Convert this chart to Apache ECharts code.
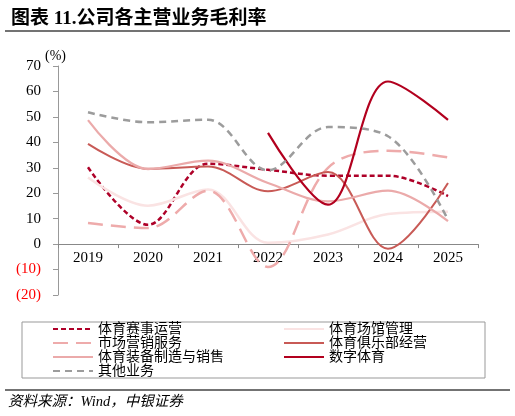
<!DOCTYPE html>
<html>
<head>
<meta charset="utf-8">
<script src="https://cdn.jsdelivr.net/npm/echarts@6/dist/echarts.min.js"></script>
<style>
  html, body { margin: 0; padding: 0; background: #fff; }
  #main { width: 515px; height: 416px; }
</style>
</head>
<body>
<div id="main"></div>
<script>
// 年份
var years = ['2019', '2020', '2021', '2022', '2023', '2024', '2025'];
// 各业务毛利率 (%)
var eventOps = [30.2, 7.6, 31.6, 29.2, 26.9, 26.9, 18.9];      // 体育赛事运营
var venueMgmt = [26.2, 15.1, 21.5, 0.5, 3.8, 11.8, 12.7];      // 体育场馆管理
var marketing = [8.3, 6.3, 21.0, -9.0, 30.0, 36.7, 34.1];      // 市场营销服务
var clubOps = [39.4, 29.6, 30.5, 20.8, 28.3, -1.8, 24.0];      // 体育俱乐部经营
var equipment = [48.7, 29.5, 32.8, 24.0, 16.8, 21.0, 9.0];     // 体育装备制造与销售
var digital = [null, null, null, 43.7, 15.5, 63.9, 48.8];      // 数字体育
var others = [51.8, 47.9, 48.9, 29.0, 46.0, 42.4, 9.5];        // 其他业务

var yTicks = { min: -20, max: 70, step: 10 };

var serif = 'Liberation Serif, "Noto Sans CJK SC", serif';
var myChart = echarts.init(document.getElementById('main'));

// 网格
var gridTop = 66, gridBottom = 121, chartH = 416;
var plotH = chartH - gridTop - gridBottom;
// x轴放在0刻度处
var zeroOffset = -plotH * (0 - yTicks.min) / (yTicks.max - yTicks.min);

function line(name, data, color, width, dash) {
    return {
        name: name,
        type: 'line',
        data: data,
        smooth: 0.35,
        symbol: 'none',
        lineStyle: { color: color, width: width, type: dash || 'solid' },
        itemStyle: { color: color }
    };
}

var legendText = { fontSize: 14, lineHeight: 14, color: '#000', fontFamily: serif };

var option = {
    animation: false,
    backgroundColor: '#fff',
    title: {
        text: '图表 11.公司各主营业务毛利率',
        left: 6,
        top: 5,
        textStyle: { fontSize: 19, fontWeight: 'bold', color: '#000', fontFamily: serif }
    },
    grid: { left: 58, right: 37, top: gridTop, bottom: gridBottom, outerBoundsMode: 'none' },
    xAxis: {
        type: 'category',
        data: years,
        boundaryGap: true,
        offset: zeroOffset,
        axisLine: { onZero: false, lineStyle: { color: '#888', width: 1 } },
        axisTick: { show: true, length: 4, lineStyle: { color: '#888' } },
        axisLabel: { color: '#000', fontSize: 15, fontFamily: serif, margin: 6 }
    },
    yAxis: {
        type: 'value',
        min: yTicks.min,
        max: yTicks.max,
        interval: yTicks.step,
        axisLine: { show: true, lineStyle: { color: '#999', width: 1 } },
        axisTick: { show: true, length: 5, lineStyle: { color: '#999' } },
        splitLine: { show: false },
        axisLabel: {
            fontSize: 15,
            fontFamily: serif,
            margin: 17,
            color: function (v) { return v < 0 ? '#ff0000' : '#000'; },
            formatter: function (v) { return v < 0 ? '(' + (-v) + ')' : v; }
        }
    },
    legend: [{
        data: ['体育赛事运营', '市场营销服务', '体育装备制造与销售', '其他业务'],
        orient: 'vertical',
        left: 52,
        top: 322,
        padding: 0,
        itemWidth: 40,
        itemHeight: 10,
        itemGap: 0,
        itemStyle: { opacity: 0 },
        textStyle: legendText
    }, {
        data: ['体育场馆管理', '体育俱乐部经营', '数字体育'],
        orient: 'vertical',
        left: 283,
        top: 322,
        padding: 0,
        itemWidth: 40,
        itemHeight: 10,
        itemGap: 0,
        itemStyle: { opacity: 0 },
        textStyle: legendText
    }],
    graphic: [
        { type: 'line', shape: { x1: 5, y1: 31, x2: 510, y2: 31 }, style: { stroke: '#444', lineWidth: 1.3 } },
        // 单位
        { type: 'text', left: 45, top: 49, style: { text: '(%)', fill: '#000', font: '14px ' + serif } },
        { type: 'rect', shape: { x: 22, y: 322, width: 463, height: 56 }, style: { fill: 'none', stroke: '#999', lineWidth: 1 } },
        { type: 'line', shape: { x1: 5, y1: 390, x2: 510, y2: 390 }, style: { stroke: '#444', lineWidth: 1.3 } },
        {
            type: 'text', left: 8, top: 395,
            style: { text: '资料来源：Wind，中银证券', fill: '#000', font: 'italic 14.5px ' + serif }
        }
    ],
    series: [
        line('体育赛事运营', eventOps, '#AE0028', 2.5, [5, 3]),
        line('体育场馆管理', venueMgmt, '#FAE3E3', 2.5),
        line('市场营销服务', marketing, '#EEABAB', 2.5, [15, 8]),
        line('体育俱乐部经营', clubOps, '#C85A56', 2),
        line('体育装备制造与销售', equipment, '#EBAAAA', 2.2),
        line('数字体育', digital, '#B2001E', 2.2),
        line('其他业务', others, '#9C9C9C', 2.5, [7, 5])
    ]
};
myChart.setOption(option);
</script>
</body>
</html>
